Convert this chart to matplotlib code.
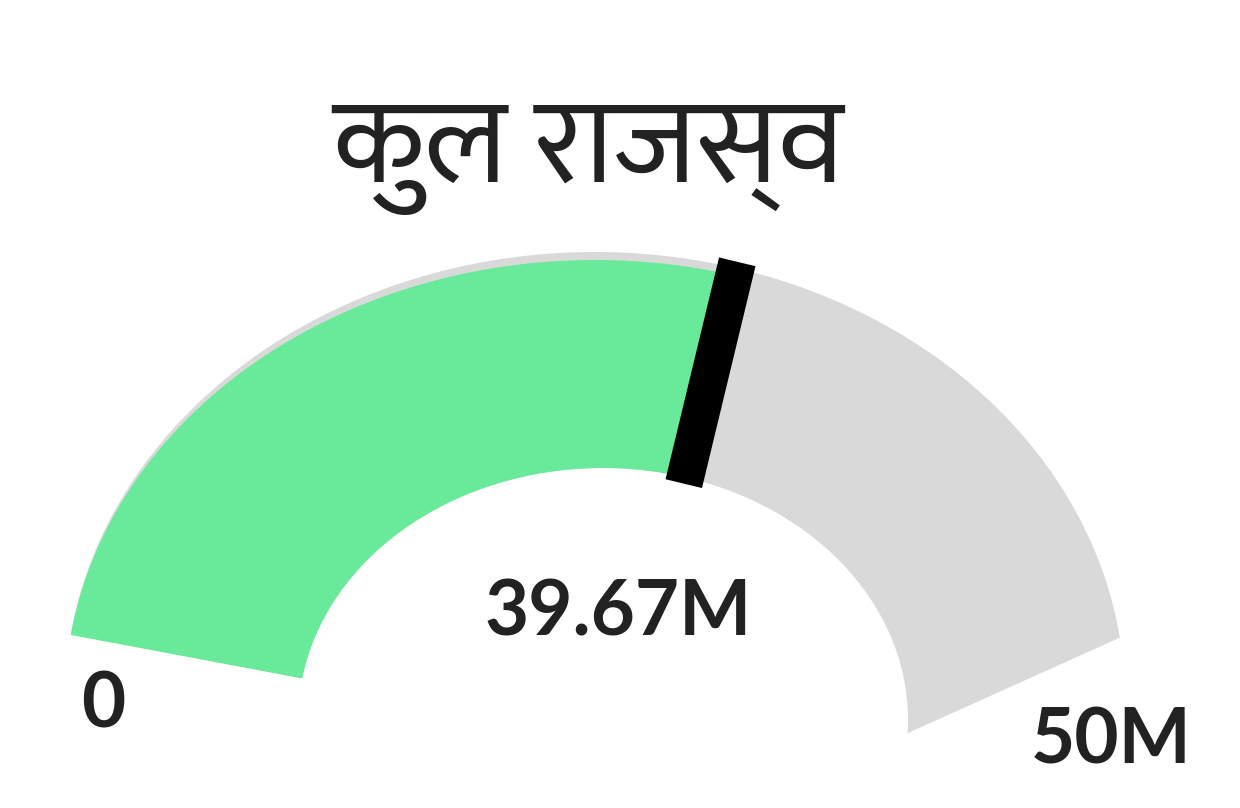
import numpy as np
import matplotlib
matplotlib.use("Agg")
import matplotlib.pyplot as plt

# data
title = "कुल राजस्व"
value = 39.67          # millions
range_min = 0
range_max = 50
value_label = "39.67M"
tick_labels = ["0", "50M"]

# colours
bar_color = "#69EA9A"
track_color = "#D9D9D9"
text_color = "#222222"

# the gauge in the picture is drawn in a tilted, squashed way:
# inner and outer edges are two ellipses (pixel space) and the angle is warped
inner = dict(cx=603, cy=720, a=305, b=252, start=170.5, end=-3.0, k=2.55)
outer = dict(cx=595, cy=700, a=530, b=448, start=171.5, end=8.0, k=2.26)


def gauge_xy(frac, s, shrink=0.0):
    frac = np.clip(np.asarray(frac, dtype=float), 0, 1)
    p = {key: inner[key] + (outer[key] - inner[key]) * s for key in inner}
    theta = np.radians(p["start"] + (p["end"] - p["start"]) * frac ** p["k"])
    x = p["cx"] + p["a"] * np.cos(theta)
    y = p["cy"] - (p["b"] - shrink * s) * np.sin(theta)
    return x, y


def band(ax, f0, f1, color, shrink=0.0):
    t = np.linspace(f0, f1, 300)
    xo, yo = gauge_xy(t, 1.0, shrink)
    xi, yi = gauge_xy(t[::-1], 0.0)
    ax.fill(np.concatenate([xo, xi]), np.concatenate([yo, yi]), color=color, lw=0)


plt.rcParams["font.family"] = ["Mukta", "Noto Sans Devanagari", "DejaVu Sans"]

fig = plt.figure(figsize=(12.4, 8.08), dpi=100)
ax = fig.add_axes([0, 0, 1, 1])
ax.set_xlim(0, 1240)
ax.set_ylim(808, 0)
ax.axis("off")

frac = (value - range_min) / (range_max - range_min)

band(ax, 0, 1, track_color)
band(ax, 0, frac, bar_color, shrink=8)

# threshold marker at the current value
mx, my = gauge_xy([frac, frac], np.array([-0.03, 1.03]))
ax.plot(mx, my, color="black", lw=27, solid_capstyle="butt")

ax.text(588, 158, title, fontsize=88, color=text_color, ha="center", va="center")
num_font = dict(fontsize=55, color=text_color, ha="center", va="center",
                family="Lato", weight="bold")
ax.text(618, 613, value_label, **num_font)
ax.text(103, 706, tick_labels[0], **num_font)
ax.text(1111, 742, tick_labels[1], **num_font)

fig.savefig("out.png", dpi=100)
